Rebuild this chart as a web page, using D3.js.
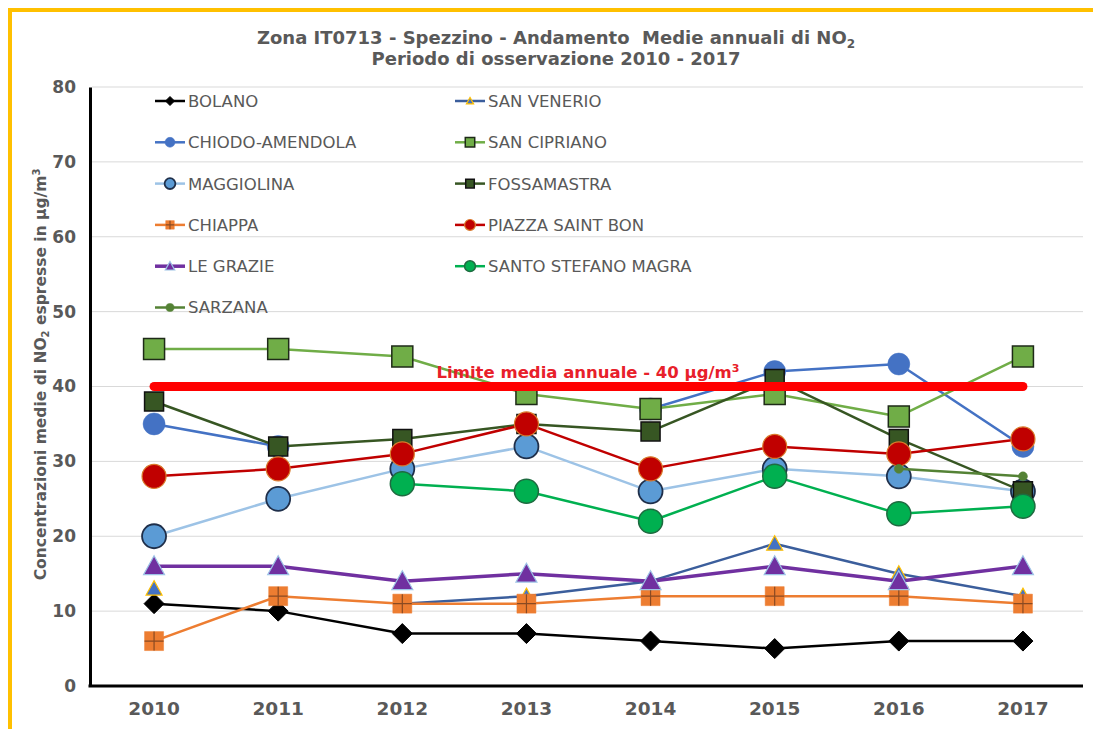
<!DOCTYPE html>
<html>
<head>
<meta charset="utf-8">
<script src="https://cdn.jsdelivr.net/npm/d3@7"></script>
<style>
	body { margin: 0; background: #fff; }
	svg { display: block; font-family: 'DejaVu Sans', Verdana, sans-serif; }
</style>
</head>
<body>
<div id="chart"></div>
<script>

// DATA //

const years = [ '2010', '2011', '2012', '2013', '2014', '2015', '2016', '2017' ];
const yTicks = [ 0, 10, 20, 30, 40, 50, 60, 70, 80 ];
const limitValue = 40;

const bolano = [ 11, 10, 7, 7, 6, 5, 6, 6 ];
const sanVenerio = [ 13, null, 11, 12, 14, 19, 15, 12 ];
const chiodoAmendola = [ 35, 32, null, null, 37, 42, 43, 32 ];
const sanCipriano = [ 45, 45, 44, 39, 37, 39, 36, 44 ];
const maggiolina = [ 20, 25, 29, 32, 26, 29, 28, 26 ];
const fossamastra = [ 38, 32, 33, 35, 34, 41, 33, 26 ];
const chiappa = [ 6, 12, 11, 11, 12, 12, 12, 11 ];
const piazzaSaintBon = [ 28, 29, 31, 35, 29, 32, 31, 33 ];
const leGrazie = [ 16, 16, 14, 15, 14, 16, 14, 16 ];
const santoStefanoMagra = [ null, null, 27, 26, 22, 28, 23, 24 ];
const sarzana = [ null, null, null, null, null, null, 29, 28 ];

const stationNames = [
	'BOLANO', 'SAN VENERIO', 'CHIODO-AMENDOLA', 'SAN CIPRIANO', 'MAGGIOLINA',
	'FOSSAMASTRA', 'CHIAPPA', 'PIAZZA SAINT BON', 'LE GRAZIE',
	'SANTO STEFANO MAGRA', 'SARZANA'
];
const stationValues = [
	bolano, sanVenerio, chiodoAmendola, sanCipriano, maggiolina,
	fossamastra, chiappa, piazzaSaintBon, leGrazie, santoStefanoMagra, sarzana
];


// STYLES //

// line colour, line width, marker shape, marker size, fill, stroke
const styles = [
	{ line: '#000000', lw: 2.5, shape: 'diamond', size: 10, fill: '#000000', stroke: '#000000', sw: 1 },
	{ line: '#3b5e9c', lw: 2.5, shape: 'triangle', size: 8, fill: '#4472c4', stroke: '#ffc000', sw: 1.2 },
	{ line: '#4472c4', lw: 2.5, shape: 'circle', size: 11, fill: '#4472c4', stroke: '#4472c4', sw: 0.5 },
	{ line: '#70ad47', lw: 2.5, shape: 'square', size: 10.5, fill: '#70ad47', stroke: '#1e2a18', sw: 1.5 },
	{ line: '#9dc3e6', lw: 2.5, shape: 'circle', size: 12, fill: '#5b9bd5', stroke: '#1f2f4a', sw: 1.8 },
	{ line: '#375623', lw: 2.5, shape: 'square', size: 9.5, fill: '#375623', stroke: '#111111', sw: 1.5 },
	{ line: '#ed7d31', lw: 2.5, shape: 'plussquare', size: 9.5, fill: '#ed7d31', stroke: '#ed7d31', sw: 0.5 },
	{ line: '#c00000', lw: 2.5, shape: 'circle', size: 12, fill: '#c00000', stroke: '#d97a2b', sw: 1.2 },
	{ line: '#7030a0', lw: 3.5, shape: 'triangle', size: 10.5, fill: '#7030a0', stroke: '#9dc3e6', sw: 1.2 },
	{ line: '#00b050', lw: 2.5, shape: 'circle', size: 12, fill: '#00b050', stroke: '#1e6b40', sw: 1.5 },
	{ line: '#548235', lw: 2.5, shape: 'circle', size: 4.5, fill: '#548235', stroke: '#548235', sw: 0.5 }
];


// FUNCTIONS //

// Path for a marker centred on 0,0 with half-size s.
function markerPath( shape, s ) {
	if ( shape === 'diamond' ) {
		return `M0,${-s}L${s},0L0,${s}L${-s},0Z`;
	}
	if ( shape === 'triangle' ) {
		return `M0,${-s * 1.0}L${s},${s * 0.8}L${-s},${s * 0.8}Z`;
	}
	if ( shape === 'square' || shape === 'plussquare' ) {
		return `M${-s},${-s}H${s}V${s}H${-s}Z`;
	}
	return null;
}

function drawMarker( g, st, scale ) {
	const s = st.size * ( scale || 1 );
	if ( st.shape === 'circle' ) {
		g.append( 'circle' )
			.attr( 'r', s )
			.attr( 'fill', st.fill )
			.attr( 'stroke', st.stroke )
			.attr( 'stroke-width', st.sw );
		return;
	}
	g.append( 'path' )
		.attr( 'd', markerPath( st.shape, s ) )
		.attr( 'fill', st.fill )
		.attr( 'stroke', st.stroke )
		.attr( 'stroke-width', st.sw )
		.attr( 'stroke-linejoin', 'miter' );
	if ( st.shape === 'plussquare' ) {
		g.append( 'path' )
			.attr( 'd', `M0,${-s}V${s}M${-s},0H${s}` )
			.attr( 'stroke', '#8a4a22' )
			.attr( 'stroke-width', 1.2 );
	}
}


// MAIN //

const width = 1093;
const height = 729;
const margin = { top: 87, right: 8, bottom: 43, left: 92 };

const svg = d3.select( '#chart' ).append( 'svg' )
	.attr( 'width', width )
	.attr( 'height', height );

// Yellow frame, open on the right and bottom.
svg.append( 'rect' )
	.attr( 'x', 10 )
	.attr( 'y', 10 )
	.attr( 'width', 1300 )
	.attr( 'height', 1000 )
	.attr( 'fill', 'none' )
	.attr( 'stroke', '#ffc000' )
	.attr( 'stroke-width', 4 );

const x = d3.scaleBand()
	.domain( years )
	.range([ margin.left, width - margin.right ])
	.padding( 0 );

const y = d3.scaleLinear()
	.domain([ 0, 80 ])
	.range([ height - margin.bottom, margin.top ]);

const cx = d => x( d ) + x.bandwidth() / 2;

// Title
const title = svg.append( 'g' )
	.attr( 'fill', '#595959' )
	.attr( 'font-weight', 'bold' )
	.attr( 'font-size', 18 )
	.attr( 'text-anchor', 'middle' );
const t1 = title.append( 'text' )
	.attr( 'x', 556 )
	.attr( 'y', 44 );
t1.append( 'tspan' ).text( 'Zona IT0713 - Spezzino - Andamento  Medie annuali di NO' ).attr( 'xml:space', 'preserve' );
t1.append( 'tspan' ).text( '2' ).attr( 'font-size', 12 ).attr( 'dy', 4 );
title.append( 'text' )
	.attr( 'x', 556 )
	.attr( 'y', 65 )
	.text( 'Periodo di osservazione 2010 - 2017' );

// Gridlines
svg.append( 'g' )
	.selectAll( 'line' )
	.data( yTicks.slice( 1 ) )
	.enter().append( 'line' )
	.attr( 'x1', margin.left )
	.attr( 'x2', width - margin.right - 2 )
	.attr( 'y1', d => y( d ) )
	.attr( 'y2', d => y( d ) )
	.attr( 'stroke', '#d9d9d9' )
	.attr( 'stroke-width', 1 );

// Axes
const yAxis = svg.append( 'g' )
	.attr( 'transform', `translate(${margin.left - 2},0)` )
	.call( d3.axisLeft( y ).tickValues( yTicks ).tickSize( 0 ).tickPadding( 14 ) );
yAxis.select( '.domain' )
	.attr( 'stroke', '#000' )
	.attr( 'stroke-width', 3 );
yAxis.selectAll( 'text' )
	.attr( 'fill', '#595959' )
	.attr( 'font-weight', 'bold' )
	.attr( 'font-size', 17 )
	.attr( 'font-family', "'DejaVu Sans', Verdana, sans-serif" );

const xAxis = svg.append( 'g' )
	.attr( 'transform', `translate(0,${height - margin.bottom})` )
	.call( d3.axisBottom( x ).tickSize( 0 ).tickPadding( 16 ) );
xAxis.select( '.domain' )
	.attr( 'stroke', '#000' )
	.attr( 'stroke-width', 3 )
	.attr( 'd', `M${margin.left - 3.5},0H${width - margin.right - 2}` );
xAxis.selectAll( 'text' )
	.attr( 'fill', '#595959' )
	.attr( 'font-weight', 'bold' )
	.attr( 'font-size', 18.5 )
	.attr( 'font-family', "'DejaVu Sans', Verdana, sans-serif" );

// Y axis title
const yTitle = svg.append( 'text' )
	.attr( 'transform', `translate(46,${( margin.top + height - margin.bottom ) / 2 - 12}) rotate(-90)` )
	.attr( 'text-anchor', 'middle' )
	.attr( 'fill', '#595959' )
	.attr( 'font-weight', 'bold' )
	.attr( 'font-size', 15.5 );
yTitle.append( 'tspan' ).text( 'Concentrazioni medie di NO' );
yTitle.append( 'tspan' ).text( '2' ).attr( 'font-size', 10 ).attr( 'dy', 3 );
yTitle.append( 'tspan' ).text( ' espresse in µg/m' ).attr( 'dy', -3 ).attr( 'xml:space', 'preserve' );
yTitle.append( 'tspan' ).text( '3' ).attr( 'font-size', 10 ).attr( 'dy', -6 );

// Series lines and markers
const line = d3.line()
	.defined( d => d.v !== null )
	.x( d => cx( d.year ) )
	.y( d => y( d.v ) );

const series = stationNames.map( ( name, i ) => ({
	name: name,
	style: styles[ i ],
	points: years.map( ( yr, j ) => ({ year: yr, v: stationValues[ i ][ j ] }) )
}) );

const plot = svg.append( 'g' );
series.forEach( s => {
	const g = plot.append( 'g' );
	g.append( 'path' )
		.attr( 'd', line( s.points ) )
		.attr( 'fill', 'none' )
		.attr( 'stroke', s.style.line )
		.attr( 'stroke-width', s.style.lw )
		.attr( 'stroke-linejoin', 'round' );
	s.points.filter( p => p.v !== null ).forEach( p => {
		const m = g.append( 'g' )
			.attr( 'transform', `translate(${cx( p.year )},${y( p.v )})` );
		drawMarker( m, s.style );
	});
});

// Annual limit line
const limitLine = d3.line()
	.x( d => cx( d ) )
	.y( () => y( limitValue ) );
svg.append( 'path' )
	.attr( 'd', limitLine( years ) )
	.attr( 'fill', 'none' )
	.attr( 'stroke', '#ff0000' )
	.attr( 'stroke-width', 9 )
	.attr( 'stroke-linecap', 'round' );

const limitLabel = svg.append( 'text' )
	.attr( 'x', 588 )
	.attr( 'y', 378 )
	.attr( 'text-anchor', 'middle' )
	.attr( 'fill', '#e8202a' )
	.attr( 'font-weight', 'bold' )
	.attr( 'font-size', 16.5 );
limitLabel.append( 'tspan' ).text( 'Limite media annuale - 40 µg/m' );
limitLabel.append( 'tspan' ).text( '3' ).attr( 'font-size', 11 ).attr( 'dy', -6 );

// Legend, two columns filled row by row
const legend = svg.append( 'g' )
	.attr( 'font-size', 16.5 )
	.attr( 'fill', '#595959' );
series.forEach( ( s, i ) => {
	const col = i % 2;
	const row = Math.floor( i / 2 );
	const lg = legend.append( 'g' )
		.attr( 'transform', `translate(${col ? 455 : 155},${101 + row * 41.3})` );
	lg.append( 'line' )
		.attr( 'x1', 0 )
		.attr( 'x2', 30 )
		.attr( 'stroke', s.style.line )
		.attr( 'stroke-width', s.style.lw );
	const m = lg.append( 'g' ).attr( 'transform', 'translate(15,0)' );
	drawMarker( m, s.style, s.style.size > 6 ? 0.45 : 0.9 );
	lg.append( 'text' )
		.attr( 'x', 33 )
		.attr( 'dy', '0.36em' )
		.text( s.name );
});

</script>
</body>
</html>
